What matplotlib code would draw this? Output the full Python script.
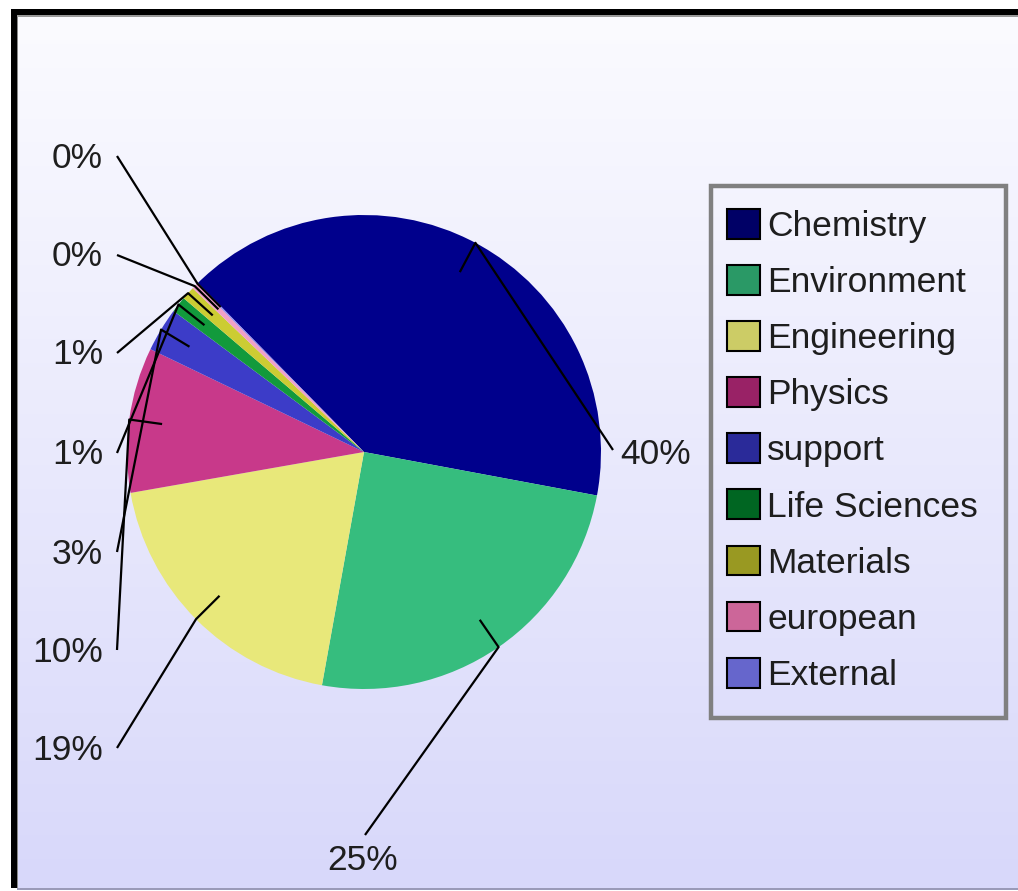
import numpy as np
import matplotlib
matplotlib.use('Agg')
import matplotlib.pyplot as plt
from matplotlib.patches import Patch, Rectangle
from matplotlib.colors import LinearSegmentedColormap

# ---- data ----
categories = ['Chemistry', 'Environment', 'Engineering', 'Physics', 'support',
              'Life Sciences', 'Materials', 'european', 'External']
shares = [40.3, 24.9, 19.4, 9.9, 3.0, 1.1, 0.9, 0.4, 0.1]
pct_labels = ['40%', '25%', '19%', '10%', '3%', '1%', '1%', '0%', '0%']
slice_colors = ['#00008c', '#36bd7e', '#e8e87a', '#c8398a', '#3c3cc8',
                '#129a3c', '#cccc33', '#f0a0c8', '#8888ee']
legend_colors = ['#000066', '#2a9966', '#cccc66', '#992266', '#2a2a99',
                 '#006622', '#999922', '#cc6699', '#6666cc']

plt.rcParams['font.family'] = ['Liberation Sans', 'DejaVu Sans']
TEXT = '#1e1e1e'
FS = 25.5

W, H = 1018, 891
fig = plt.figure(figsize=(W / 100, H / 100), dpi=100)
fig.patch.set_facecolor('white')
ax = fig.add_axes([0, 0, 1, 1])


def Y(py):
    return H - py


# pie
cx, cy, R = 364, Y(452), 237
wedges, _ = ax.pie(shares, colors=slice_colors, startangle=134.5, counterclock=False,
                   center=(cx, cy), radius=R, wedgeprops=dict(linewidth=0))
for w in wedges:
    w.set_zorder(2)

ax.set_xlim(0, W)
ax.set_ylim(0, H)
ax.set_aspect('equal')
ax.axis('off')

# background gradient
grad = np.linspace(0, 1, 256).reshape(-1, 1)
cmap = LinearSegmentedColormap.from_list('bg', ['#fbfbff', '#d8d8fa'])
ax.imshow(grad, extent=(17, W, Y(888), Y(15)), cmap=cmap, aspect='auto',
          zorder=0, origin='upper', interpolation='bilinear')

# frame lines
ax.add_patch(Rectangle((11, Y(888)), 6, 888 - 9, color='black', zorder=1, lw=0))
ax.add_patch(Rectangle((11, Y(15)), W - 11, 6, color='black', zorder=1, lw=0))
ax.add_patch(Rectangle((17, Y(888)), 1.5, 888 - 15, color='#888888', zorder=1, lw=0))
ax.add_patch(Rectangle((17, Y(17)), W - 17, 2, color='#999999', zorder=1, lw=0))
ax.add_patch(Rectangle((17, Y(889.5)), W - 17, 1.5, color='#9a9ab8', zorder=1, lw=0))

# labels with leader lines (layout positions in pixel space)
left_y = [748, 650, 552, 453, 353, 255, 156]
anchors = {0: ((613, 450), (620, 452), 'left'),
           1: ((365, 835), (363, 858), 'center')}
for k, yy in enumerate(left_y):
    anchors[k + 2] = ((117, yy), (103, yy), 'right')

for i, w in enumerate(wedges):
    mid = np.deg2rad((w.theta1 + w.theta2) / 2)
    ex, ey = cx + R * np.cos(mid), cy + R * np.sin(mid)
    ix, iy = cx + 0.86 * R * np.cos(mid), cy + 0.86 * R * np.sin(mid)
    (ax0, ay0), (tx, ty), ha = anchors[i]
    ax.plot([ax0, ex, ix], [Y(ay0), ey, iy], color='black', lw=1.6, zorder=3,
            solid_capstyle='butt')
    ax.text(tx, Y(ty + 2), pct_labels[i], ha=ha, va='center', fontsize=FS,
            color=TEXT, zorder=4)

# legend box
ax.add_patch(Rectangle((711, Y(718)), 1006 - 711, 718 - 186, fill=False,
                       edgecolor='#808080', lw=3.2, zorder=5))

# legend
handles = [Patch(facecolor=c, edgecolor='black', linewidth=1.5) for c in legend_colors]
leg = ax.legend(handles, categories, loc='upper left',
                bbox_to_anchor=(727 / W, 1 - 209 / H), bbox_transform=fig.transFigure,
                frameon=False, fontsize=FS, handlelength=0.92, handleheight=0.92,
                handletextpad=0.22, labelspacing=0.62, borderpad=0, borderaxespad=0)
for t in leg.get_texts():
    t.set_color(TEXT)
leg.set_zorder(6)

fig.savefig('out.png', dpi=100)
